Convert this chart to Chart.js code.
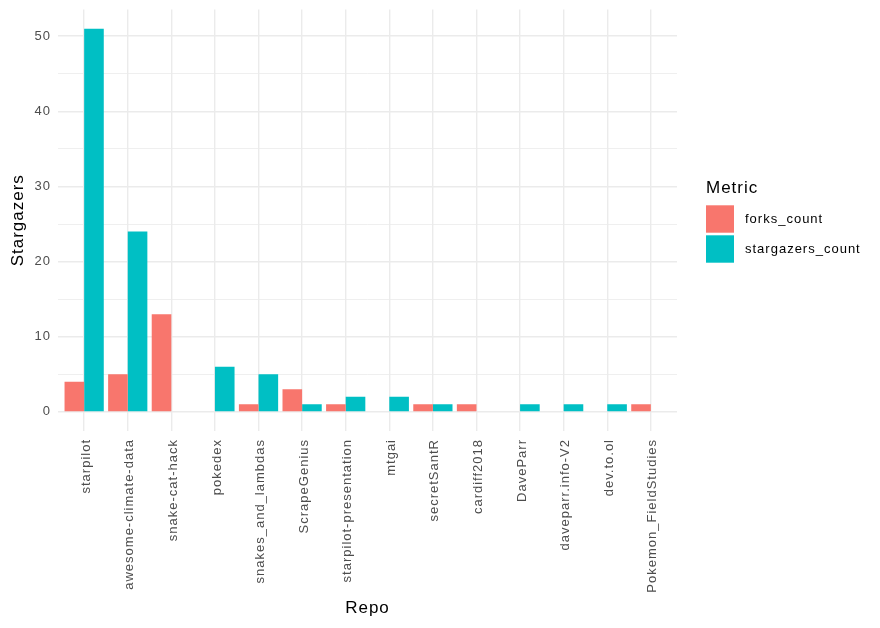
<!DOCTYPE html>
<html>
<head>
<meta charset="utf-8">
<script src="https://cdn.jsdelivr.net/npm/chart.js@4/dist/chart.umd.min.js"></script>
<style>
  html, body { margin: 0; padding: 0; background: #ffffff; }
  #wrap { width: 880px; height: 628px; }
</style>
</head>
<body>
<div id="wrap"><canvas id="c" width="880" height="628"></canvas></div>
<script>
const repos = ["starpilot", "awesome-climate-data", "snake-cat-hack", "pokedex", "snakes_and_lambdas",
  "ScrapeGenius", "starpilot-presentation", "mtgai", "secretSantR", "cardiff2018", "DaveParr",
  "daveparr.info-V2", "dev.to.ol", "Pokemon_FieldStudies"];
const forksCount = [4, 5, 13, 0, 1, 3, 1, 0, 1, 1, 0, 0, 0, 1];
const stargazersCount = [51, 24, 0, 6, 5, 1, 2, 2, 1, 0, 1, 1, 1, 0];
const yTicks = [0, 5, 10, 15, 20, 25, 30, 35, 40, 45, 50];
const seriesNames = ["forks_count", "stargazers_count"];
const seriesColors = ["#F8766D", "#00BFC4"];

const FONT = "'Liberation Sans', Arial, Helvetica, sans-serif";
Chart.defaults.font.family = FONT;

const spacingPlugin = {
  id: 'spacing',
  beforeUpdate(chart) { chart.ctx.letterSpacing = '1px'; },
  beforeDraw(chart) { chart.ctx.letterSpacing = '1px'; }
};

const legendPlugin = {
  id: 'ggLegend',
  afterDraw(chart) {
    const ctx = chart.ctx;
    ctx.save();
    ctx.letterSpacing = '1px';
    ctx.fillStyle = '#000000';
    ctx.textAlign = 'left';
    ctx.textBaseline = 'alphabetic';
    ctx.font = "17px " + FONT;
    ctx.fillText("Metric", 706, 192.7);
    const keyTops = [205.3, 235.3];
    ctx.font = "13px " + FONT;
    ctx.textBaseline = 'middle';
    for (let i = 0; i < seriesNames.length; i++) {
      ctx.fillStyle = seriesColors[i];
      ctx.fillRect(706, keyTops[i], 28, 27.4);
      ctx.fillStyle = '#000000';
      ctx.fillText(seriesNames[i], 745, keyTops[i] + 14);
    }
    ctx.restore();
  }
};

new Chart(document.getElementById('c'), {
  type: 'bar',
  data: {
    labels: repos,
    datasets: [
      { label: seriesNames[0], data: forksCount, backgroundColor: seriesColors[0], borderWidth: 0,
        categoryPercentage: 0.9, barPercentage: 1.0 },
      { label: seriesNames[1], data: stargazersCount, backgroundColor: seriesColors[1], borderWidth: 0,
        categoryPercentage: 0.9, barPercentage: 1.0 }
    ]
  },
  options: {
    responsive: false,
    animation: false,
    devicePixelRatio: 1,
    layout: { padding: { left: 0, top: 9.5, right: 203, bottom: 0 } },
    plugins: {
      legend: { display: false },
      tooltip: { enabled: false }
    },
    scales: {
      x: {
        type: 'category',
        offset: false,
        afterBuildTicks(scale) {
          scale._startValue = -0.6;
          scale._valueRange = repos.length - 1 + 1.2;
        },
        afterFit(scale) { scale.height = 197; scale.paddingLeft = 0; scale.paddingRight = 0; },
        grid: { color: '#EBEBEB', lineWidth: 1.4, drawTicks: false, offset: false },
        border: { display: false },
        ticks: {
          autoSkip: false, minRotation: 90, maxRotation: 90, padding: 8, labelOffset: 2,
          color: '#4D4D4D', font: { size: 13, family: FONT }
        },
        title: {
          display: true, text: 'Repo', color: '#000000',
          font: { size: 17, family: FONT }, padding: { top: 0, bottom: 9.3 }
        }
      },
      y: {
        type: 'linear',
        min: -2.55,
        max: 53.55,
        afterBuildTicks(scale) { scale.ticks = yTicks.map(v => ({ value: v })); },
        afterFit(scale) { scale.width = 58; scale.paddingTop = 0; scale.paddingBottom = 0; },
        grid: {
          color: '#EBEBEB',
          lineWidth: (ctx) => (ctx.tick && ctx.tick.value % 10 === 0) ? 1.4 : 0.8,
          drawTicks: false
        },
        border: { display: false },
        ticks: {
          padding: 7, color: '#4D4D4D', font: { size: 13, family: FONT },
          callback: (v) => (v % 10 === 0 ? String(v) : '')
        },
        title: {
          display: true, text: 'Stargazers', color: '#000000',
          font: { size: 17, family: FONT }, padding: { top: 8, bottom: 0 }
        }
      }
    }
  },
  plugins: [spacingPlugin, legendPlugin]
});
</script>
</body>
</html>
